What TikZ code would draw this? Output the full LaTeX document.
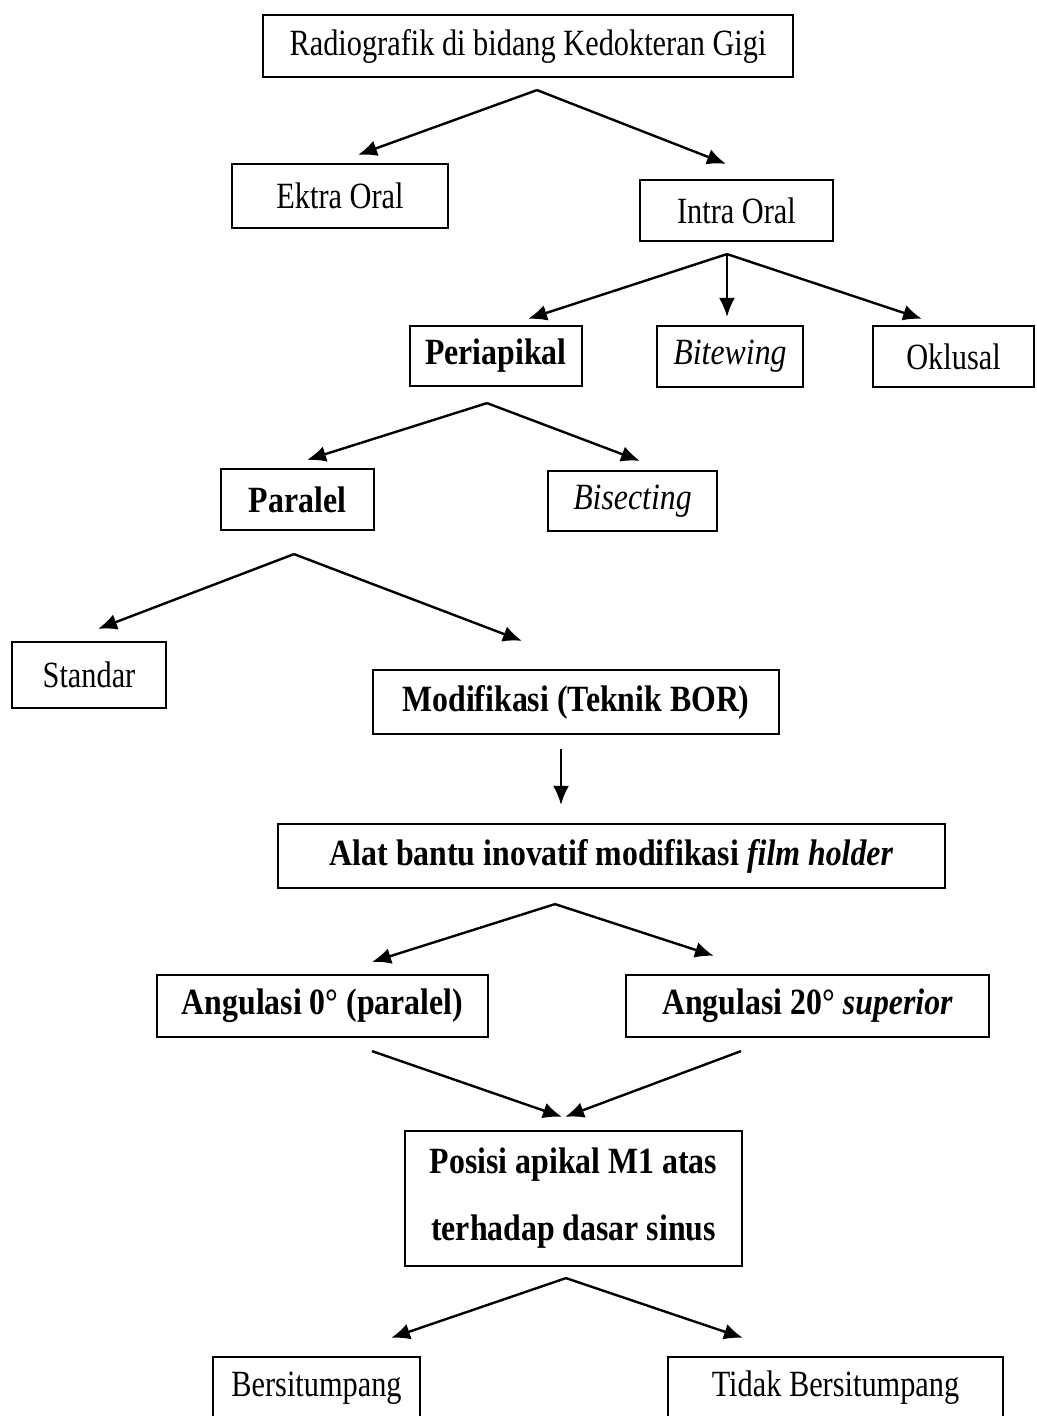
\documentclass[tikz,border=0pt]{standalone}
\usepackage{fontspec}
\setmainfont{Liberation Serif}[
  UprightFeatures={FakeStretch=0.82},
  BoldFeatures={FakeStretch=0.86},
  ItalicFeatures={FakeStretch=0.86},
  BoldItalicFeatures={FakeStretch=0.86}
]
\usetikzlibrary{positioning, calc, arrows.meta}

\begin{document}
\begin{tikzpicture}[
    x=1pt, y=-1pt,
    % Block styles
    box/.style={
      rectangle, draw=black, line width=2.2pt, fill=white,
      minimum height=62pt, inner sep=0pt,
      font=\fontsize{37}{44}\selectfont, align=center
    },
    boxbold/.style={
      box, font=\fontsize{37}{44}\selectfont\bfseries
    },
    arrow/.style={draw=black, line width=2.4pt, -{Latex[length=19pt, width=16pt]}},
  ]

  \useasboundingbox (0,0) rectangle (1036,1416);
  \clip (0,0) rectangle (1036,1416);

  % === Top level ===
  \node[box, minimum width=530pt] (radio) at (528,46) {Radiografik di bidang Kedokteran Gigi};
  \node[box, minimum width=216pt, minimum height=64pt] (ektra) at (340,196) {Ektra Oral};
  \node[box, minimum width=193pt, minimum height=61pt] (intra) at (736.5,210.5) {Intra Oral};

  % === Intra oral techniques ===
  \node[boxbold, minimum width=172pt, minimum height=60pt] (peri) at (496,356) {Periapikal};
  \node[box, minimum width=146pt, minimum height=61pt] (bite) at (730,356.5) {\itshape Bitewing};
  \node[box, minimum width=161pt, minimum height=61pt] (oklu) at (953.5,356.5) {Oklusal};

  % === Periapikal ===
  \node[boxbold, minimum width=153pt, minimum height=61pt] (paralel) at (297.5,499.5) {Paralel};
  \node[box, minimum width=169pt, minimum height=60pt] (bisect) at (632.5,501) {\itshape Bisecting};

  % === Paralel ===
  \node[box, minimum width=154pt, minimum height=66pt] (standar) at (89,675) {Standar};
  \node[boxbold, minimum width=406pt, minimum height=64pt] (modif) at (576,702) {Modifikasi (Teknik BOR)};
  \node[boxbold, minimum width=667pt, minimum height=64pt] (alat) at (611.5,856) {Alat bantu inovatif modifikasi \textit{film holder}};

  % === Angulasi ===
  \node[boxbold, minimum width=331pt] (ang0) at (322.5,1006) {Angulasi 0° (paralel)};
  \node[boxbold, minimum width=363pt] (ang20) at (807.5,1006) {Angulasi 20° \textit{superior}};
  \node[boxbold, minimum width=337pt, minimum height=135pt] (posisi) at (573.5,1198.5) {Posisi apikal M1 atas\\[23pt]terhadap dasar sinus};

  % === Result ===
  \node[box, minimum width=207pt] (bersi) at (316.5,1388) {Bersitumpang};
  \node[box, minimum width=335pt] (tidak) at (835.5,1388) {Tidak Bersitumpang};

  % Fork points
  \coordinate (radio-fork) at ($(radio.south)+(9,12)$);
  \coordinate (intra-fork) at ($(intra.south)+(-9.5,12)$);
  \coordinate (peri-fork) at ($(peri.south)+(-9,16)$);
  \coordinate (paralel-fork) at ($(paralel.south)+(-3.5,23)$);
  \coordinate (alat-fork) at ($(alat.south)+(-56.5,15)$);
  \coordinate (posisi-fork) at ($(posisi.south)+(-7.5,11)$);

  % Connectors
  \draw[arrow] (radio-fork) -- ($(ektra.north)+(18,-8)$);
  \draw[arrow] (radio-fork) -- ($(intra.north)+(-10.5,-15)$);

  \draw[arrow] (intra-fork) -- ($(peri.north)+(32,-6)$);
  \draw[arrow] (intra-fork) -- ($(bite.north)+(-3,-8)$);
  \draw[arrow] (intra-fork) -- ($(oklu.north)+(-31.5,-6)$);

  \draw[arrow] (peri-fork) -- ($(paralel.north)+(9.5,-8)$);
  \draw[arrow] (peri-fork) -- ($(bisect.north)+(7.5,-9)$);

  \draw[arrow] (paralel-fork) -- ($(standar.north)+(9,-12)$);
  \draw[arrow] (paralel-fork) -- ($(modif.north)+(-54,-28)$);

  \draw[arrow] ($(modif.south)+(-15,14)$) -- ($(alat.north)+(-50.5,-18)$);

  \draw[arrow] (alat-fork) -- ($(ang0.north)+(49.5,-12)$);
  \draw[arrow] (alat-fork) -- ($(ang20.north)+(-93.5,-18)$);

  \draw[arrow] ($(ang0.south)+(49.5,13)$) -- ($(posisi.north)+(-11.5,-13)$);
  \draw[arrow] ($(ang20.south)+(-66.5,13)$) -- ($(posisi.north)+(-8.5,-13)$);

  \draw[arrow] (posisi-fork) -- ($(bersi.north)+(74.5,-18)$);
  \draw[arrow] (posisi-fork) -- ($(tidak.north)+(-92.5,-18)$);

\end{tikzpicture}
\end{document}
